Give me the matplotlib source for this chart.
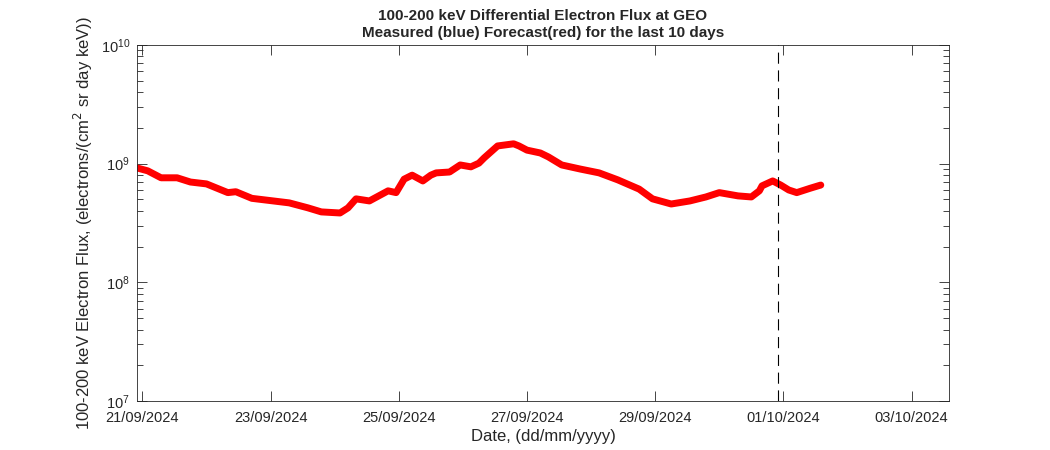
import matplotlib
matplotlib.use('Agg')
import matplotlib.pyplot as plt
import matplotlib.dates as mdates
from matplotlib.ticker import LogLocator, FixedLocator
import pandas as pd

plt.rcParams['font.family'] = ['Liberation Sans', 'DejaVu Sans']

# forecast flux
times = ['2024-09-20 22:00', '2024-09-21 02:00', '2024-09-21 07:00', '2024-09-21 13:00',
         '2024-09-21 18:00', '2024-09-22 00:00', '2024-09-22 08:00', '2024-09-22 11:00',
         '2024-09-22 17:00', '2024-09-23 01:00', '2024-09-23 07:00', '2024-09-23 14:00',
         '2024-09-23 19:00', '2024-09-24 02:00', '2024-09-24 05:00', '2024-09-24 08:00',
         '2024-09-24 13:00', '2024-09-24 20:00', '2024-09-24 23:00', '2024-09-25 02:00',
         '2024-09-25 05:00', '2024-09-25 09:00', '2024-09-25 12:00', '2024-09-25 14:00',
         '2024-09-25 19:00', '2024-09-25 23:00', '2024-09-26 03:00', '2024-09-26 06:00',
         '2024-09-26 08:00', '2024-09-26 13:00', '2024-09-26 19:00', '2024-09-26 21:00',
         '2024-09-27 00:00', '2024-09-27 05:00', '2024-09-27 08:00', '2024-09-27 13:00',
         '2024-09-27 20:00', '2024-09-28 03:00', '2024-09-28 10:00', '2024-09-28 18:00',
         '2024-09-28 23:00', '2024-09-29 06:00', '2024-09-29 13:00', '2024-09-29 19:00',
         '2024-09-30 00:00', '2024-09-30 07:00', '2024-09-30 12:00', '2024-09-30 15:00',
         '2024-09-30 16:00', '2024-09-30 20:00', '2024-09-30 23:00', '2024-10-01 02:00',
         '2024-10-01 05:00', '2024-10-01 10:00', '2024-10-01 13:00', '2024-10-01 14:00']
flux = [9.2e8, 8.7e8, 7.6e8, 7.6e8,
        7.0e8, 6.75e8, 5.7e8, 5.8e8,
        5.1e8, 4.85e8, 4.67e8, 4.24e8,
        3.92e8, 3.84e8, 4.24e8, 5.05e8,
        4.85e8, 5.9e8, 5.7e8, 7.4e8,
        8.0e8, 7.15e8, 8.0e8, 8.36e8,
        8.5e8, 9.75e8, 9.4e8, 1.01e9,
        1.12e9, 1.41e9, 1.47e9, 1.41e9,
        1.30e9, 1.23e9, 1.14e9, 9.75e8,
        9.0e8, 8.36e8, 7.3e8, 6.1e8,
        5.05e8, 4.57e8, 4.85e8, 5.24e8,
        5.7e8, 5.35e8, 5.24e8, 5.9e8,
        6.5e8, 7.15e8, 6.6e8, 6.0e8,
        5.7e8, 6.2e8, 6.5e8, 6.6e8]

now = '2024-09-30 22:00'
xstart, xend = '2024-09-20 22:00', '2024-10-03 14:00'
tick_days = ['2024-09-21', '2024-09-23', '2024-09-25', '2024-09-27',
             '2024-09-29', '2024-10-01', '2024-10-03']

t = pd.to_datetime(times)

fig = plt.figure(figsize=(10.5, 4.5), dpi=100)
ax = fig.add_axes([0.1305, 0.109, 0.7733, 0.791])

ax.semilogy(t, flux, '-', color='red', lw=5, solid_capstyle='round',
            solid_joinstyle='round')
ax.axvline(pd.Timestamp(now), color='k', lw=0.8, dashes=(10, 6))

ax.set_xlim(pd.Timestamp(xstart), pd.Timestamp(xend))
ax.set_ylim(1e7, 1e10)
ax.xaxis.set_major_locator(FixedLocator(mdates.date2num(pd.to_datetime(tick_days))))
ax.xaxis.set_major_formatter(mdates.DateFormatter('%d/%m/%Y'))
ax.yaxis.set_major_locator(LogLocator(base=10, numticks=10))
ax.yaxis.set_minor_locator(LogLocator(base=10, subs=range(2, 10), numticks=10))

ax.tick_params(which='both', direction='in', top=True, right=True,
               labelsize=10.5, colors='#262626')
ax.tick_params(which='major', length=7, width=0.6)
ax.tick_params(which='minor', length=4, width=0.6)
ax.tick_params(axis='x', pad=7)
ax.tick_params(axis='y', pad=5)
for s in ax.spines.values():
    s.set_linewidth(0.6)
    s.set_color('#262626')

ax.set_xlabel('Date, (dd/mm/yyyy)', fontsize=12, color='#262626', labelpad=3)
ax.set_ylabel('100-200 keV Electron Flux, (electrons/(cm$^2$ sr day keV))',
              fontsize=12, color='#262626', labelpad=4)
ax.set_title('100-200 keV Differential Electron Flux at GEO\n'
             'Measured (blue) Forecast(red) for the last 10 days',
             fontsize=11, fontweight='bold', color='#262626', pad=6)

fig.savefig('out.png', dpi=100)
